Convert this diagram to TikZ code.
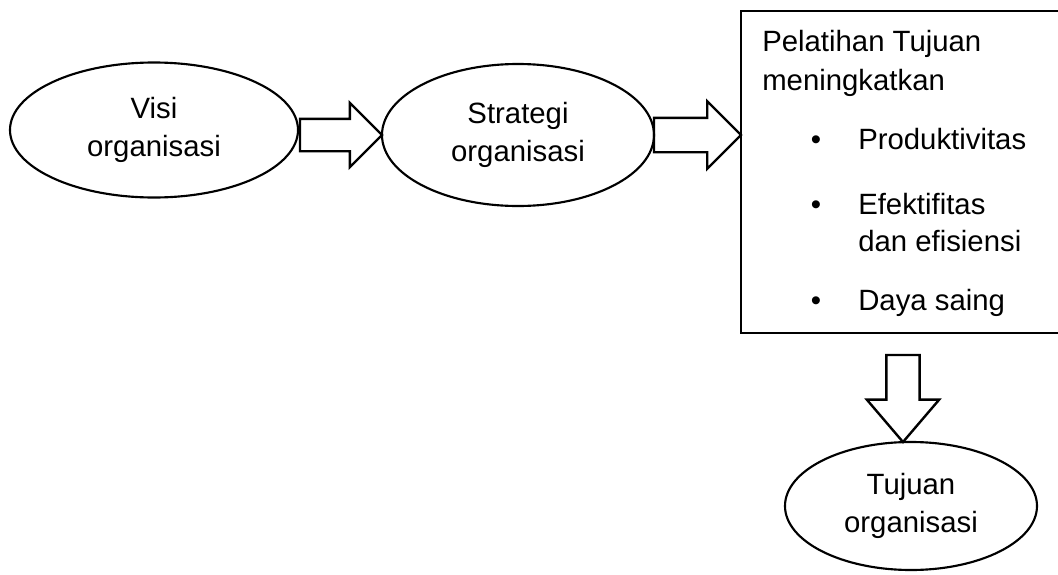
\documentclass[tikz,border=0pt]{standalone}
\usepackage{fontspec}
\setmainfont{Liberation Sans}
\usetikzlibrary{shapes.geometric,shapes.arrows}
\begin{document}
\begin{tikzpicture}[x=0.75pt,y=-0.75pt,
oval/.style={ellipse,draw,line width=1.6pt,inner sep=0pt,outer sep=0pt,align=center,font=\fontsize{22}{28.5}\selectfont},
box/.style={rectangle,draw,line width=1.6pt,inner sep=0pt,outer sep=0pt},
txt/.style={inner sep=0pt,anchor=base west,font=\fontsize{22}{28.5}\selectfont},
dot/.style={inner sep=0pt,anchor=base,font=\fontsize{22}{28.5}\selectfont},
blockarrow/.style={single arrow,draw,line width=1.8pt,outer sep=0pt,single arrow tip angle=90}]
\useasboundingbox (0,0) rectangle (1058,575);
\node [oval,minimum width=216pt,minimum height=101.25pt] (visi) at (154,130) {Visi\\organisasi};
\node [oval,minimum width=204pt,minimum height=106.5pt] (strategi) at (518,135) {Strategi\\organisasi};
\node [box,minimum width=270pt,minimum height=241.5pt] (pelatihan) at (921,172) {};
\node [oval,minimum width=189pt,minimum height=96pt] (tujuan) at (911,506) {Tujuan\\organisasi};
\node [blockarrow,inner sep=11.25pt,single arrow head extend=12pt,minimum height=61.5pt,anchor=tip] (panah1) at (strategi.west) {};
\node [blockarrow,inner sep=12pt,single arrow head extend=12.4pt,minimum height=65.25pt,anchor=tip] (panah2) at (pelatihan.west |- strategi.west) {};
\node [blockarrow,inner sep=11.6pt,single arrow head extend=14.6pt,single arrow tip angle=81,minimum height=65.25pt,shape border rotate=270,anchor=tip] (panah3) at ([xshift=-6pt]tujuan.north) {};
\node [txt] (judul1) at (762,51.7) {Pelatihan Tujuan};
\node [txt] (judul2) at (762,90) {meningkatkan};
\node [dot] (titik1) at (816,149) {•};
\node [txt] (butir1) at (858,149) {Produktivitas};
\node [dot] (titik2) at (816,214) {•};
\node [txt] (butir2a) at (858,214) {Efektifitas};
\node [txt] (butir2b) at (858,251) {dan efisiensi};
\node [dot] (titik3) at (816,310) {•};
\node [txt] (butir3) at (858,310) {Daya saing};
\end{tikzpicture}
\end{document}
